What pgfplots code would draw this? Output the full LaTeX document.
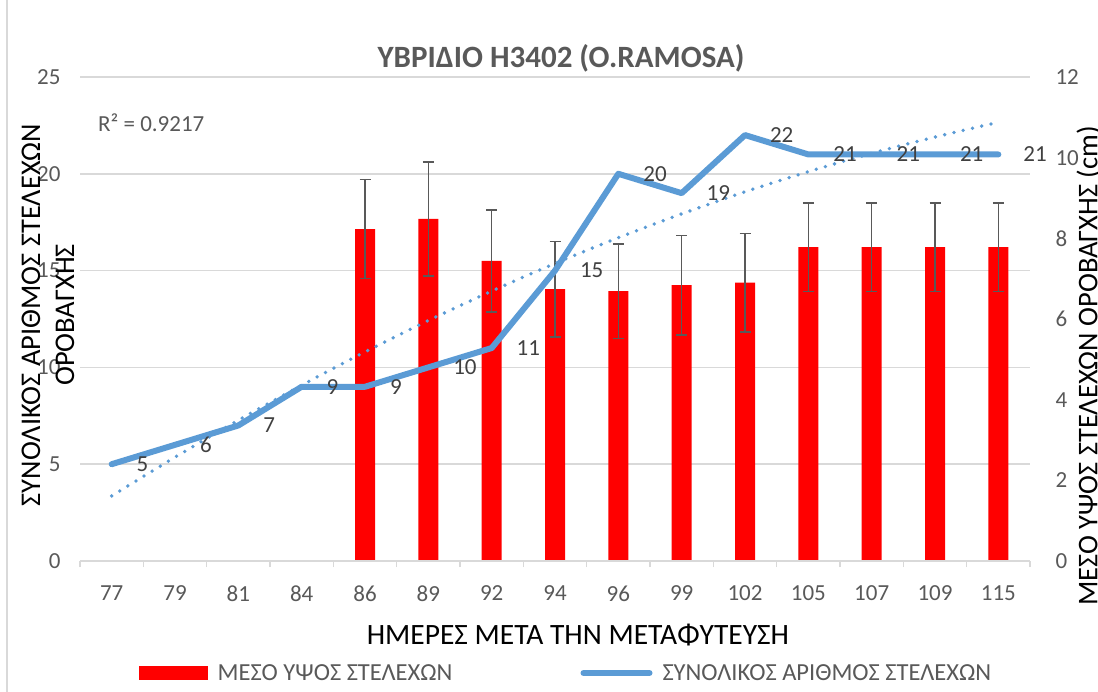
\documentclass[border=0pt]{standalone}
\usepackage{fontspec}
\setmainfont{Carlito}
\usepackage{pgfplots}
\usepackage{pgfplotstable}
\pgfplotsset{compat=1.18}
\definecolor{tickgray}{HTML}{595959}
\definecolor{lblgray}{HTML}{404040}
\definecolor{gridgray}{HTML}{D9D9D9}
\definecolor{lineblue}{HTML}{5B9BD5}
\definecolor{barred}{HTML}{FF0000}
\definecolor{errgray}{HTML}{595959}
\newcommand\tickfont{\fontsize{23}{27}\selectfont}
\newcommand\axtitlefont{\fontsize{29.5}{35}\selectfont}
\newcommand\ytitlefont{\fontsize{28.5}{34}\selectfont}
\newcommand\legfont{\fontsize{24.5}{29}\selectfont}
\pgfplotsset{/pgf/number format/assume math mode=true}

\pgfplotstableread{
x y err
4 8.23 1.23
5 8.48 1.41
6 7.44 1.26
7 6.74 1.18
8 6.69 1.17
9 6.84 1.23
10 6.90 1.22
11 7.78 1.10
12 7.78 1.10
13 7.78 1.10
14 7.78 1.10
}\bardata

\pgfplotstableread{
x y
0 5
1 6
2 7
3 9
4 9
5 10
6 11
7 15
8 20
9 19
10 22
11 21
12 21
13 21
14 21
}\linedata

\pgfplotstableread{
x y
0 3.36
1 5.36
2 7.27
3 9.08
4 10.80
5 12.42
6 13.94
7 15.37
8 16.70
9 17.93
10 19.07
11 20.11
12 21.06
13 21.90
14 22.66
}\trenddata

\begin{document}
\begin{tikzpicture}[x=1pt,y=1pt]
\useasboundingbox (0pt,0pt) rectangle (1098pt,691pt);
\draw[gridgray, line width=1.5pt] (7pt,-5pt) -- (7pt,700pt);

% right axis: bars with error bars, grid
\begin{axis}[
  at={(80pt,130pt)}, anchor=south west, width=950pt, height=484pt, scale only axis,
  xmin=-0.5, xmax=14.5, ymin=0, ymax=12,
  axis x line=none, axis y line*=right, y axis line style={draw=none},
  xtick=\empty,
  ytick={0,2,...,12}, y tick style={draw=none},
  yticklabel style={font=\tickfont, text=tickgray, xshift=22pt},
  extra y ticks={2.4,4.8,7.2,9.6,12}, extra y tick labels={},
  extra y tick style={grid=major, major grid style={draw=gridgray, line width=1.5pt}, tick style={draw=none}},
]
\addplot[ybar, bar width=20pt, fill=barred, draw=none,
  error bars/.cd, y dir=both, y explicit,
  error bar style={line width=1.6pt, draw=errgray},
  error mark options={rotate=90, mark size=5.5pt, line width=1.6pt, draw=errgray}]
  table[x=x, y=y, y error=err] {\bardata};
\end{axis}

% left axis: line, trendline, labels
\begin{axis}[
  at={(80pt,130pt)}, anchor=south west, width=950pt, height=484pt, scale only axis,
  xmin=-0.5, xmax=14.5, ymin=0, ymax=25, clip=false,
  axis x line*=bottom, axis y line*=left,
  x axis line style={-, draw=gridgray, line width=1.5pt},
  y axis line style={draw=none},
  xtick={-0.5,0.5,...,14.5}, xticklabels={},
  x tick style={draw=gridgray, line width=1.5pt},
  tick align=outside, major tick length=6pt,
  extra x ticks={0,1,...,14},
  extra x tick labels={77,79,81,84,86,89,92,94,96,99,102,105,107,109,115},
  extra x tick style={major tick length=0pt, tick style={draw=none}},
  xticklabel style={font=\tickfont, text=tickgray, yshift=-21pt},
  ytick={0,5,...,25}, y tick style={draw=none},
  yticklabel style={font=\tickfont, text=tickgray, xshift=-10pt},
  legend columns=2,
  legend cell align=left,
  legend style={at={(0.0621,-0.2314)}, anchor=west, draw=none, fill=none,
    inner sep=0pt, font=\legfont, text=tickgray,
    /tikz/every odd column/.append style={column sep=8pt},
    /tikz/every even column/.append style={column sep=126pt}},
]
\addlegendimage{legend image code/.code={\fill[barred] (0pt,-6.5pt) rectangle (68pt,6.5pt);}}
\addlegendentry{ΜΕΣΟ ΥΨΟΣ ΣΤΕΛΕΧΩΝ}
\addplot[lineblue, line width=6pt, line join=round, line cap=round,
  nodes near coords, nodes near coords align={horizontal},
  every node near coord/.append style={font=\tickfont, text=lblgray, inner sep=0pt, anchor=west, xshift=22pt},
  legend image code/.code={\draw[lineblue, line width=6pt, line cap=round] (3pt,0pt) -- (69pt,0pt);}]
  table[x=x, y=y] {\linedata};
\addlegendentry{ΣΥΝΟΛΙΚΟΣ ΑΡΙΘΜΟΣ ΣΤΕΛΕΧΩΝ}
\addplot[lineblue, line width=3.8pt, line cap=round, dash pattern=on 0pt off 9.5pt, smooth, forget plot]
  table[x=x, y=y] {\trenddata};
\end{axis}

\node[font=\bfseries\fontsize{31}{37}\selectfont, text=tickgray] at (561pt,633pt) {ΥΒΡΙΔΙΟ Η3402 (O.RAMOSA)};
\node[font=\axtitlefont] at (578pt,56pt) {ΗΜΕΡΕΣ ΜΕΤΑ ΤΗΝ ΜΕΤΑΦΥΤΕΥΣΗ};
\node[font=\ytitlefont, rotate=90, align=center] at (48pt,376pt) {ΣΥΝΟΛΙΚΟΣ ΑΡΙΘΜΟΣ ΣΤΕΛΕΧΩΝ\\ΟΡΟΒΑΓΧΗΣ};
\node[font=\ytitlefont, rotate=90] at (1089pt,325pt) {ΜΕΣΟ ΥΨΟΣ ΣΤΕΛΕΧΩΝ ΟΡΟΒΑΓΧΗΣ (cm)};
\node[font=\tickfont, text=tickgray, anchor=west, inner sep=0pt] at (98pt,568pt) {R² = 0.9217};
\end{tikzpicture}
\end{document}
